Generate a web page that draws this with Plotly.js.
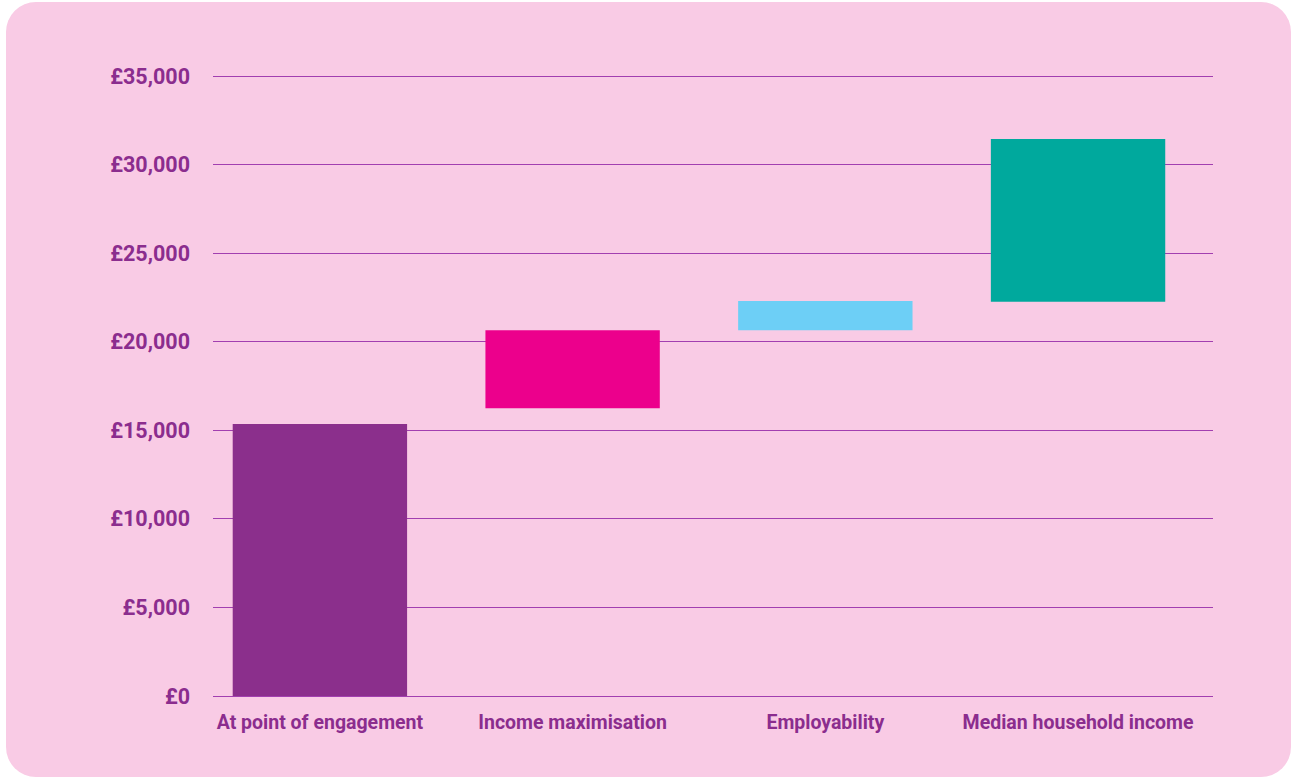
<!DOCTYPE html>
<html>
<head>
<meta charset="utf-8">
<script src="https://cdn.plot.ly/plotly-3.0.1.min.js"></script>
<style>
  html, body { margin: 0; padding: 0; background: #ffffff; width: 1297px; height: 779px; overflow: hidden; }
  #card { position: absolute; left: 6px; top: 2px; width: 1285px; height: 775px; background: #f9cbe5; border-radius: 30px; }
  #chart { position: absolute; left: 0; top: 0; width: 1297px; height: 779px; }
</style>
</head>
<body>
<div id="card"></div>
<div id="chart"></div>
<script>
const categories = ["At point of engagement", "Income maximisation", "Employability", "Median household income"];
const barBottoms = [0, 16250, 20650, 22250];
const barTops = [15350, 20650, 22300, 31450];
const barColors = ["#8b2f8c", "#ec008c", "#6dcff6", "#00a99d"];
const yTickValues = [0, 5000, 10000, 15000, 20000, 25000, 30000, 35000];
const yTickLabels = ["£0", "£5,000", "£10,000", "£15,000", "£20,000", "£25,000", "£30,000", "£35,000"];

const textColor = "#8b2d8e";
const gridColor = "#a23fb0";

const trace = {
  type: "bar",
  x: categories,
  y: barTops.map((t, i) => t - barBottoms[i]),
  base: barBottoms,
  width: 0.69,
  marker: { color: barColors, line: { width: 0 } },
  hoverinfo: "skip"
};

const layout = {
  width: 1297,
  height: 779,
  margin: { l: 213, r: 84, t: 75, b: 83 },
  paper_bgcolor: "rgba(0,0,0,0)",
  plot_bgcolor: "rgba(0,0,0,0)",
  showlegend: false,
  font: { family: "Roboto, sans-serif", color: textColor },
  xaxis: {
    type: "category",
    range: [-0.423, 3.534],
    showgrid: false,
    zeroline: false,
    showline: false,
    ticks: "",
    ticklabelstandoff: 12,
    tickfont: { family: "Roboto, sans-serif", size: 19.5, color: textColor, weight: "bold" },
    fixedrange: true
  },
  yaxis: {
    range: [0, 35057],
    tickvals: yTickValues,
    ticktext: yTickLabels,
    showgrid: true,
    gridcolor: gridColor,
    gridwidth: 1,
    zeroline: true,
    zerolinecolor: gridColor,
    zerolinewidth: 1,
    showline: false,
    ticks: "",
    ticklabelstandoff: 22,
    tickfont: { family: "Roboto, sans-serif", size: 21.5, color: textColor, weight: "bold" },
    fixedrange: true
  },
  bargap: 0.31
};

Plotly.newPlot("chart", [trace], layout, { displayModeBar: false, staticPlot: true });
</script>
</body>
</html>
